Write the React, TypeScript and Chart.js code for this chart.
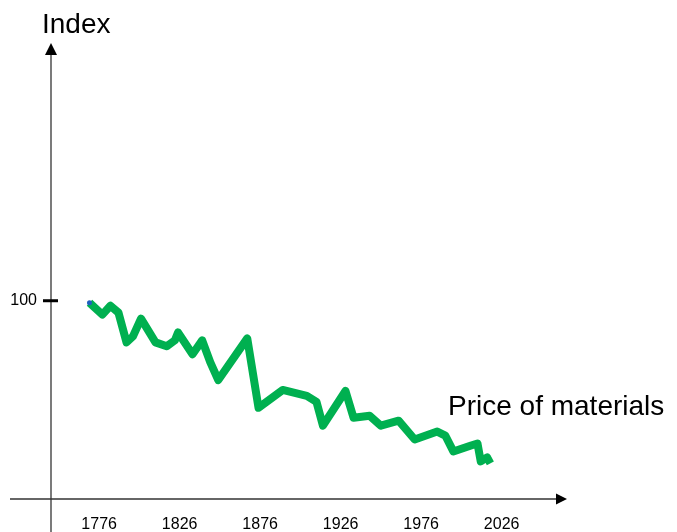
import React, { useEffect, useRef } from "react";
import { Chart, registerables } from "chart.js";

Chart.register(...registerables);

// Data
const years = [
  1770, 1778, 1783, 1788, 1793, 1797, 1802, 1811, 1818, 1823, 1825, 1834, 1840, 1845, 1850,
  1868, 1875, 1890, 1905, 1911, 1915, 1929, 1934, 1944, 1951, 1962, 1972, 1986, 1991, 1996,
  2007, 2011, 2013, 2017, 2019,
];
const priceIndex = [
  99, 93, 97.5, 94, 79, 82, 91, 79, 77, 80, 84, 73, 80, 69, 60,
  81, 46, 55, 52, 49, 37, 54.5, 41, 42, 37, 39.5, 30, 34, 32, 24,
  27, 28, 19, 21, 18,
];
const xTickYears = [1776, 1826, 1876, 1926, 1976, 2026];
const yTickValues = [100];
const yAxisTitle = "Index";
const seriesLabel = "Price of materials";

const FONT = "'Liberation Sans', Arial, sans-serif";

const axesPlugin = {
  id: "axesArrows",
  afterDraw(chart: any) {
    const { ctx, chartArea } = chart;
    const yScale = chart.scales.y;
    const left = chartArea.left;
    const bottom = chartArea.bottom;
    ctx.save();
    ctx.strokeStyle = "#333333";
    ctx.fillStyle = "#000000";
    ctx.lineWidth = 1.3;
    // y axis
    ctx.beginPath();
    ctx.moveTo(left, 532);
    ctx.lineTo(left, chartArea.top + 8);
    ctx.stroke();
    ctx.beginPath();
    ctx.moveTo(left, chartArea.top);
    ctx.lineTo(left - 6, chartArea.top + 12);
    ctx.lineTo(left + 6, chartArea.top + 12);
    ctx.closePath();
    ctx.fill();
    // x axis
    ctx.beginPath();
    ctx.moveTo(10, bottom);
    ctx.lineTo(chartArea.right - 8, bottom);
    ctx.stroke();
    ctx.beginPath();
    ctx.moveTo(chartArea.right, bottom);
    ctx.lineTo(chartArea.right - 11, bottom - 5.5);
    ctx.lineTo(chartArea.right - 11, bottom + 5.5);
    ctx.closePath();
    ctx.fill();
    // y tick marks
    ctx.strokeStyle = "#000000";
    ctx.lineWidth = 3;
    yTickValues.forEach((v) => {
      const py = yScale.getPixelForValue(v);
      ctx.beginPath();
      ctx.moveTo(left - 8, py);
      ctx.lineTo(left + 7, py);
      ctx.stroke();
    });
    // texts
    ctx.fillStyle = "#000000";
    ctx.font = `28px ${FONT}`;
    ctx.textAlign = "left";
    ctx.textBaseline = "alphabetic";
    ctx.fillText(yAxisTitle, 42, 33);
    ctx.fillText(seriesLabel, 448, 415);
    ctx.restore();
  },
};

export default function App() {
  const canvasRef = useRef<HTMLCanvasElement | null>(null);

  useEffect(() => {
    const canvas = canvasRef.current;
    if (!canvas) return;
    const chart = new Chart(canvas, {
      type: "line",
      data: {
        datasets: [
          {
            label: seriesLabel,
            data: years.map((yr, i) => ({ x: yr, y: priceIndex[i] })),
            borderColor: "#00B050",
            borderWidth: 8,
            borderJoinStyle: "round",
            tension: 0,
            pointRadius: (c: any) => (c.dataIndex === 0 ? 2.5 : 0),
            pointBackgroundColor: "#1F5FBF",
            pointBorderWidth: 0,
            fill: false,
          },
        ],
      },
      options: {
        responsive: false,
        animation: false,
        layout: { padding: { left: 0, top: 43, right: 110, bottom: 0 } },
        plugins: {
          legend: { display: false },
          tooltip: { enabled: false },
          title: { display: false },
        },
        scales: {
          x: {
            type: "linear",
            min: 1746.1,
            max: 2066.6,
            grid: { display: false, drawTicks: false, tickLength: 0 },
            border: { display: false },
            afterBuildTicks: (scale: any) => {
              scale.ticks = xTickYears.map((v) => ({ value: v }));
            },
            afterFit: (scale: any) => {
              scale.height = 33;
            },
            ticks: {
              autoSkip: false,
              maxRotation: 0,
              minRotation: 0,
              padding: 16,
              color: "#000000",
              font: { family: FONT, size: 16 },
              callback: (v: any) => String(v),
            },
          },
          y: {
            type: "linear",
            min: 0,
            max: 230,
            grid: { display: false, drawTicks: false, tickLength: 0 },
            border: { display: false },
            afterBuildTicks: (scale: any) => {
              scale.ticks = yTickValues.map((v) => ({ value: v }));
            },
            afterFit: (scale: any) => {
              scale.width = 51;
            },
            ticks: {
              padding: 14,
              color: "#000000",
              font: { family: FONT, size: 16 },
              callback: (v: any) => String(v),
            },
          },
        },
      },
      plugins: [axesPlugin],
    });
    return () => chart.destroy();
  }, []);

  return (
    <div style={{ position: "fixed", left: 0, top: 0, width: 677, height: 532, background: "#ffffff" }}>
      <canvas ref={canvasRef} width={677} height={532} style={{ display: "block" }} />
    </div>
  );
}
